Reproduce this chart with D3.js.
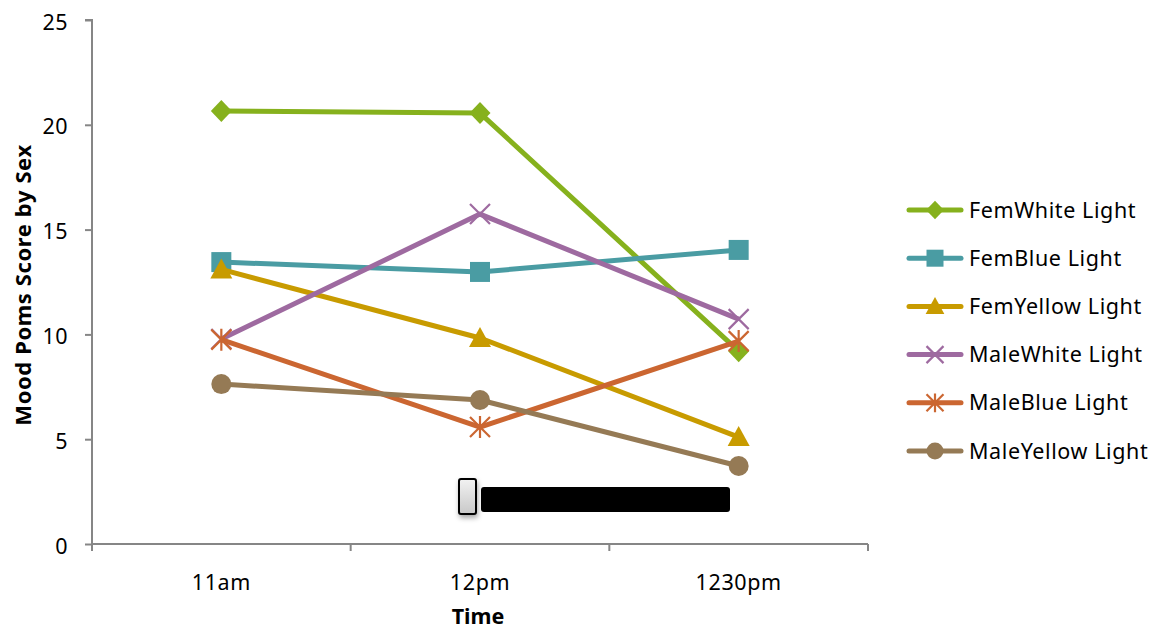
<!DOCTYPE html>
<html><head><meta charset="utf-8">
<script src="https://cdn.jsdelivr.net/npm/d3@7"></script>
<style>body{margin:0;background:#fff}svg{display:block}text{font-family:"Noto Sans",sans-serif}</style>
</head><body><svg id="c" width="1164" height="632"></svg>
<script>
const categories = ["11am","12pm","1230pm"];
const seriesNames = ["FemWhite Light","FemBlue Light","FemYellow Light","MaleWhite Light","MaleBlue Light","MaleYellow Light"];
const femWhite = [20.66, 20.56, 9.2];
const femBlue = [13.45, 12.98, 14.03];
const femYellow = [13.1, 9.83, 5.1];
const maleWhite = [9.78, 15.74, 10.73];
const maleBlue = [9.75, 5.58, 9.68];
const maleYellow = [7.63, 6.87, 3.72];
const yTicks = [0,5,10,15,20,25];
const colors = ["#86B11D","#4A9CA3","#C89B00","#9E6AA0","#CB6631","#957A55"];
const markers = ["diamond","square","triangle","x","star","circle"];
const seriesValues = [femWhite,femBlue,femYellow,maleWhite,maleBlue,maleYellow];

const svg = d3.select("#c");
const L=92,R=868,T=20,B=544;
const x = d3.scaleBand().domain(categories).range([L,R]);
const y = d3.scaleLinear().domain([0,25]).range([B,T]);
const axisCol="#868686";

// y axis
const ya = svg.append("g").attr("transform",`translate(${L},0)`).call(d3.axisLeft(y).tickValues(yTicks).tickSize(7).tickPadding(17));
ya.select(".domain").attr("stroke",axisCol).attr("stroke-width",2).attr("d",`M-7,${T}H0V${B}`);
ya.selectAll(".tick line").attr("stroke",axisCol).attr("stroke-width",2);
ya.selectAll("text").attr("font-size",21.5).attr("fill","#000").attr("dy","0.42em").style("font-family","Noto Sans").style("letter-spacing","0.5px");
// x axis
const xa = svg.append("g").attr("transform",`translate(0,${B})`).call(d3.axisBottom(x).tickSize(0).tickPadding(31));
xa.select(".domain").attr("stroke",axisCol).attr("stroke-width",2).attr("d",`M${L},0H${R}`);
xa.selectAll("text").attr("font-size",21.5).attr("fill","#000").style("font-family","Noto Sans").style("letter-spacing","0.6px");
const bounds = [L, ...categories.map(c=>x(c)+x.bandwidth())];
svg.append("g").selectAll("line").data(bounds).join("line")
  .attr("x1",d=>d).attr("x2",d=>d).attr("y1",B).attr("y2",B+7).attr("stroke",axisCol).attr("stroke-width",2);

// titles
svg.append("text").attr("transform",`translate(31,285) rotate(-90)`).attr("text-anchor","middle")
  .attr("font-size",22).attr("font-weight","bold").style("letter-spacing","0.6px").text("Mood Poms Score by Sex");
svg.append("text").attr("x",(L+R)/2-2).attr("y",624).attr("text-anchor","middle")
  .attr("font-size",21.5).attr("font-weight","bold").text("Time");

// shapes
function drawMarker(g, type, cx, cy, col, scale){
  scale = scale||1;
  const s = v=>v*scale;
  if(type==="diamond") g.append("path").attr("d",`M${cx},${cy-s(11)}L${cx+s(10.5)},${cy}L${cx},${cy+s(11)}L${cx-s(10.5)},${cy}Z`).attr("fill",col);
  else if(type==="square") g.append("rect").attr("x",cx-s(10)).attr("y",cy-s(10)).attr("width",s(20)).attr("height",s(20)).attr("fill",col);
  else if(type==="triangle") g.append("path").attr("d",`M${cx},${cy-s(11)}L${cx+s(11)},${cy+s(9)}L${cx-s(11)},${cy+s(9)}Z`).attr("fill",col);
  else if(type==="circle") g.append("circle").attr("cx",cx).attr("cy",cy).attr("r",s(10)).attr("fill",col);
  else if(type==="x") g.append("path").attr("d",`M${cx-s(10)},${cy-s(10)}L${cx+s(10)},${cy+s(10)}M${cx+s(10)},${cy-s(10)}L${cx-s(10)},${cy+s(10)}`).attr("stroke",col).attr("stroke-width",2.2);
  else if(type==="star") g.append("path").attr("d",`M${cx-s(10)},${cy-s(10)}L${cx+s(10)},${cy+s(10)}M${cx+s(10)},${cy-s(10)}L${cx-s(10)},${cy+s(10)}M${cx},${cy-s(11)}L${cx},${cy+s(11)}`).attr("stroke",col).attr("stroke-width",2.2);
}

const line = d3.line().x((d,i)=>x(categories[i])+x.bandwidth()/2).y(d=>y(d));
const plot = svg.append("g");
seriesValues.forEach((vals,si)=>{
  const g = plot.append("g");
  g.append("path").datum(vals).attr("d",line).attr("fill","none").attr("stroke",colors[si]).attr("stroke-width",5).attr("stroke-linejoin","round");
  vals.forEach((v,i)=>drawMarker(g,markers[si],x(categories[i])+x.bandwidth()/2,y(v),colors[si]));
});

// decorative box + bar
const defs = svg.append("defs");
const gr = defs.append("linearGradient").attr("id","gb").attr("x1",0).attr("y1",0).attr("x2",0).attr("y2",1);
gr.append("stop").attr("offset","0").attr("stop-color","#f2f2f2");
gr.append("stop").attr("offset","1").attr("stop-color","#c8c8c8");
const f = defs.append("filter").attr("id","sh").attr("x","-50%").attr("y","-50%").attr("width","200%").attr("height","200%");
f.append("feDropShadow").attr("dx",1).attr("dy",3).attr("stdDeviation",2.5).attr("flood-color","#000").attr("flood-opacity",0.35);
svg.append("rect").attr("x",459).attr("y",479).attr("width",17).attr("height",35).attr("rx",2)
  .attr("fill","url(#gb)").attr("stroke","#000").attr("stroke-width",2).attr("filter","url(#sh)");
svg.append("rect").attr("x",481).attr("y",487).attr("width",249).attr("height",25).attr("rx",3).attr("fill","#000");

// legend
const lg = svg.append("g");
seriesNames.forEach((n,i)=>{
  const ly = 210 + i*48.2;
  lg.append("line").attr("x1",909).attr("x2",961).attr("y1",ly).attr("y2",ly).attr("stroke",colors[i]).attr("stroke-width",5).attr("stroke-linecap","round");
  drawMarker(lg,markers[i],935,ly,colors[i],0.85);
  lg.append("text").attr("x",969).attr("y",ly+7.5).attr("font-size",21.5).style("letter-spacing","0.6px").text(n);
});
</script></body></html>
